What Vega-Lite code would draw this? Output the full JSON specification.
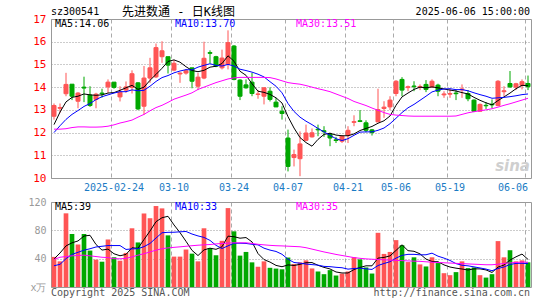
{
"$schema": "https://vega.github.io/schema/vega-lite/v6.json",
"padding": {"left": 27, "top": 5, "right": 4, "bottom": 2},
"background": "white",
"bounds": "flush",
"spacing": 24,
"config": {
 "view": {"stroke": "#999"},
 "axis": {"ticks": false, "domain": false, "tickSize": 0, "labelFont": "DejaVu Sans Mono", "labelFontSize": 10, "gridWidth": 1, "labelOverlap": false},
 "axisY": {"grid": true, "gridDash": [1,2], "gridColor": "#999", "labelPadding": 5, "labelOverlap": false},
 "text": {"font": "DejaVu Sans Mono", "fontSize": 10, "baseline": "middle", "align": "left"}
},
"datasets": {"k": [
{"d":"2025-02-10","o":12.72,"h":13.28,"l":12.57,"c":13.19,"v":42.5,"m5":12.35,"m10":12.0,"m30":12.15,"vm5":39.5,"vm10":30,"vm30":39},
{"d":"2025-02-11","o":13.07,"h":13.28,"l":12.87,"c":13.10,"v":36.2,"m5":12.9,"m10":12.3,"m30":12.15,"vm5":48,"vm10":32,"vm30":42},
{"d":"2025-02-12","o":13.71,"h":14.63,"l":13.60,"c":14.12,"v":104,"m5":13.35,"m10":12.58,"m30":12.17,"vm5":58,"vm10":40,"vm30":43},
{"d":"2025-02-13","o":14.13,"h":14.13,"l":13.43,"c":13.60,"v":74.8,"m5":13.55,"m10":12.8,"m30":12.22,"vm5":62.4,"vm10":46,"vm30":44},
{"d":"2025-02-14","o":13.38,"h":13.78,"l":13.07,"c":13.74,"v":60,"m5":13.6,"m10":12.97,"m30":12.25,"vm5":65,"vm10":49,"vm30":44.5},
{"d":"2025-02-17","o":14.00,"h":14.46,"l":13.34,"c":13.96,"v":74.8,"m5":13.7,"m10":13.15,"m30":12.25,"vm5":72,"vm10":52,"vm30":45},
{"d":"2025-02-18","o":13.65,"h":14.04,"l":13.13,"c":13.19,"v":51.4,"m5":13.66,"m10":13.28,"m30":12.24,"vm5":73,"vm10":54,"vm30":44},
{"d":"2025-02-19","o":13.46,"h":13.75,"l":13.07,"c":13.69,"v":38.6,"m5":13.64,"m10":13.45,"m30":12.24,"vm5":60,"vm10":56.5,"vm30":43},
{"d":"2025-02-20","o":13.74,"h":13.93,"l":13.54,"c":13.71,"v":35.7,"m5":13.66,"m10":13.58,"m30":12.25,"vm5":52.1,"vm10":57.5,"vm30":42},
{"d":"2025-02-21","o":14.01,"h":14.34,"l":13.75,"c":14.22,"v":67.1,"m5":13.74,"m10":13.66,"m30":12.28,"vm5":53.5,"vm10":58.5,"vm30":41.5},
{"d":"2025-02-24","o":14.22,"h":14.22,"l":13.93,"c":13.99,"v":41.9,"m5":13.76,"m10":13.74,"m30":12.34,"vm5":46.9,"vm10":58.5,"vm30":40},
{"d":"2025-02-25","o":13.57,"h":14.04,"l":13.37,"c":13.78,"v":37.1,"m5":13.86,"m10":13.8,"m30":12.42,"vm5":44.1,"vm10":58.5,"vm30":39.8},
{"d":"2025-02-26","o":13.87,"h":14.25,"l":13.75,"c":14.01,"v":48.1,"m5":13.97,"m10":13.8,"m30":12.48,"vm5":46,"vm10":53,"vm30":40.5},
{"d":"2025-02-27","o":13.99,"h":14.74,"l":13.72,"c":14.59,"v":82.9,"m5":14.08,"m10":13.88,"m30":12.55,"vm5":55.4,"vm10":53.8,"vm30":42.5},
{"d":"2025-02-28","o":14.19,"h":14.22,"l":12.99,"c":13.04,"v":62.9,"m5":13.9,"m10":13.84,"m30":12.68,"vm5":54.6,"vm10":54.1,"vm30":45},
{"d":"2025-03-03","o":13.16,"h":14.93,"l":12.78,"c":14.40,"v":103.8,"m5":14.0,"m10":13.86,"m30":12.8,"vm5":67,"vm10":57,"vm30":47},
{"d":"2025-03-04","o":14.40,"h":15.29,"l":14.19,"c":14.85,"v":97.1,"m5":14.3,"m10":14.04,"m30":12.96,"vm5":79,"vm10":61.5,"vm30":49.5},
{"d":"2025-03-05","o":14.45,"h":15.92,"l":14.40,"c":15.74,"v":114.3,"m5":14.56,"m10":14.25,"m30":13.1,"vm5":92.2,"vm10":69.1,"vm30":52},
{"d":"2025-03-06","o":15.34,"h":16.02,"l":15.07,"c":15.60,"v":111,"m5":14.83,"m10":14.42,"m30":13.2,"vm5":97.8,"vm10":76.6,"vm30":54},
{"d":"2025-03-07","o":15.34,"h":15.34,"l":14.60,"c":14.97,"v":72.9,"m5":15.13,"m10":14.51,"m30":13.33,"vm5":99.8,"vm10":77.2,"vm30":55.2},
{"d":"2025-03-10","o":14.75,"h":15.20,"l":14.70,"c":15.05,"v":42.9,"m5":15.2,"m10":14.63,"m30":13.47,"vm5":87.6,"vm10":77.3,"vm30":56},
{"d":"2025-03-11","o":14.58,"h":14.65,"l":14.19,"c":14.62,"v":42.9,"m5":15.1,"m10":14.71,"m30":13.56,"vm5":76.8,"vm10":77.9,"vm30":56.7},
{"d":"2025-03-12","o":14.62,"h":14.80,"l":14.55,"c":14.72,"v":52.9,"m5":14.9,"m10":14.77,"m30":13.65,"vm5":64.5,"vm10":78.4,"vm30":57.5},
{"d":"2025-03-13","o":14.85,"h":14.85,"l":13.95,"c":14.26,"v":47.1,"m5":14.73,"m10":14.76,"m30":13.75,"vm5":51.7,"vm10":74.8,"vm30":58.3},
{"d":"2025-03-14","o":14.04,"h":14.63,"l":13.87,"c":14.44,"v":36.2,"m5":14.68,"m10":14.88,"m30":13.9,"vm5":44.4,"vm10":72.1,"vm30":59},
{"d":"2025-03-17","o":14.40,"h":16.00,"l":14.35,"c":15.27,"v":82.9,"m5":14.74,"m10":14.96,"m30":14.0,"vm5":52.4,"vm10":70,"vm30":59.5},
{"d":"2025-03-18","o":15.52,"h":15.62,"l":15.05,"c":15.49,"v":54.8,"m5":14.88,"m10":15.03,"m30":14.1,"vm5":54.8,"vm10":65.8,"vm30":60},
{"d":"2025-03-19","o":15.34,"h":15.38,"l":14.88,"c":14.92,"v":44.8,"m5":14.92,"m10":14.96,"m30":14.2,"vm5":53.2,"vm10":58.8,"vm30":60.8},
{"d":"2025-03-20","o":14.85,"h":15.65,"l":14.78,"c":15.28,"v":65.2,"m5":15.04,"m10":14.93,"m30":14.28,"vm5":56.8,"vm10":54.3,"vm30":61.5},
{"d":"2025-03-21","o":15.00,"h":16.50,"l":14.78,"c":15.96,"v":111.4,"m5":15.38,"m10":15.0,"m30":14.36,"vm5":71.8,"vm10":58.1,"vm30":62},
{"d":"2025-03-24","o":15.81,"h":15.85,"l":14.30,"c":14.34,"v":78.6,"m5":15.14,"m10":14.93,"m30":14.41,"vm5":71,"vm10":61.7,"vm30":62.4},
{"d":"2025-03-25","o":14.31,"h":14.35,"l":13.43,"c":13.60,"v":44.3,"m5":14.7,"m10":14.79,"m30":14.43,"vm5":68.9,"vm10":61.8,"vm30":62.4},
{"d":"2025-03-26","o":14.10,"h":14.34,"l":13.93,"c":13.97,"v":49.5,"m5":14.52,"m10":14.73,"m30":14.43,"vm5":69.8,"vm10":61.5,"vm30":62.4},
{"d":"2025-03-27","o":14.22,"h":14.63,"l":13.60,"c":13.72,"v":34.8,"m5":14.15,"m10":14.66,"m30":14.43,"vm5":63.7,"vm10":60.3,"vm30":61.5},
{"d":"2025-03-28","o":13.68,"h":13.87,"l":13.49,"c":13.70,"v":28.6,"m5":13.82,"m10":14.57,"m30":14.43,"vm5":47.2,"vm10":59.5,"vm30":60.3},
{"d":"2025-03-31","o":13.60,"h":14.00,"l":13.24,"c":13.97,"v":36.2,"m5":13.77,"m10":14.45,"m30":14.43,"vm5":38.7,"vm10":54.8,"vm30":59.5},
{"d":"2025-04-01","o":13.82,"h":13.99,"l":13.37,"c":13.46,"v":27.1,"m5":13.68,"m10":14.24,"m30":14.42,"vm5":35.2,"vm10":52.1,"vm30":58.8},
{"d":"2025-04-02","o":13.34,"h":13.53,"l":13.12,"c":13.13,"v":26,"m5":13.53,"m10":14.04,"m30":14.36,"vm5":30.5,"vm10":50.2,"vm30":58.3},
{"d":"2025-04-03","o":12.94,"h":13.16,"l":12.57,"c":12.84,"v":25,"m5":13.3,"m10":13.75,"m30":14.28,"vm5":28.6,"vm10":46.2,"vm30":58},
{"d":"2025-04-07","o":11.76,"h":12.13,"l":10.29,"c":10.51,"v":41.6,"m5":12.7,"m10":13.28,"m30":14.2,"vm5":31.2,"vm10":39.2,"vm30":57.6},
{"d":"2025-04-08","o":10.90,"h":11.25,"l":10.51,"c":11.03,"v":32.4,"m5":12.2,"m10":12.93,"m30":14.16,"vm5":30.4,"vm10":34.6,"vm30":57.2},
{"d":"2025-04-09","o":10.85,"h":12.05,"l":10.08,"c":11.50,"v":34.8,"m5":11.78,"m10":12.68,"m30":14.13,"vm5":32,"vm10":33.6,"vm30":56.8},
{"d":"2025-04-10","o":11.66,"h":12.35,"l":11.62,"c":11.98,"v":37.6,"m5":11.56,"m10":12.5,"m30":14.07,"vm5":34.3,"vm10":32.4,"vm30":55.5},
{"d":"2025-04-11","o":11.81,"h":12.18,"l":11.78,"c":11.99,"v":26.2,"m5":11.4,"m10":12.35,"m30":14.0,"vm5":34.5,"vm10":31.6,"vm30":53.5},
{"d":"2025-04-14","o":12.15,"h":12.35,"l":11.84,"c":12.12,"v":21.9,"m5":11.7,"m10":12.18,"m30":13.93,"vm5":30.6,"vm10":30.9,"vm30":51.5},
{"d":"2025-04-15","o":12.08,"h":12.28,"l":11.81,"c":12.04,"v":18.1,"m5":11.92,"m10":12.03,"m30":13.87,"vm5":27.7,"vm10":29.1,"vm30":49.5},
{"d":"2025-04-16","o":11.94,"h":11.99,"l":11.40,"c":11.76,"v":23.8,"m5":11.97,"m10":11.88,"m30":13.8,"vm5":25.5,"vm10":28.7,"vm30":47.8},
{"d":"2025-04-17","o":11.68,"h":11.81,"l":11.54,"c":11.65,"v":16.2,"m5":11.89,"m10":11.73,"m30":13.7,"vm5":21.2,"vm10":27.8,"vm30":46},
{"d":"2025-04-18","o":11.62,"h":11.88,"l":11.54,"c":11.84,"v":19,"m5":11.86,"m10":11.65,"m30":13.6,"vm5":19.8,"vm10":27.2,"vm30":44.5},
{"d":"2025-04-21","o":11.88,"h":12.28,"l":11.54,"c":12.10,"v":21.9,"m5":11.86,"m10":11.73,"m30":13.5,"vm5":19.8,"vm10":25.2,"vm30":43},
{"d":"2025-04-22","o":12.45,"h":12.76,"l":12.28,"c":12.48,"v":41.9,"m5":11.94,"m10":11.88,"m30":13.37,"vm5":24.6,"vm10":26.1,"vm30":41.5},
{"d":"2025-04-23","o":12.52,"h":12.99,"l":12.46,"c":12.49,"v":39,"m5":12.09,"m10":12.02,"m30":13.28,"vm5":27.6,"vm10":26.6,"vm30":40.5},
{"d":"2025-04-24","o":12.43,"h":12.54,"l":12.01,"c":12.10,"v":27.6,"m5":12.18,"m10":12.03,"m30":13.19,"vm5":29.9,"vm10":25.6,"vm30":39.7},
{"d":"2025-04-25","o":12.12,"h":12.16,"l":11.87,"c":12.00,"v":19,"m5":12.27,"m10":12.03,"m30":13.08,"vm5":29.9,"vm10":24.8,"vm30":39.2},
{"d":"2025-04-28","o":12.47,"h":13.93,"l":12.46,"c":13.01,"v":76.5,"m5":12.41,"m10":12.1,"m30":12.98,"vm5":40.8,"vm10":30.3,"vm30":38.8},
{"d":"2025-04-29","o":13.06,"h":13.38,"l":12.65,"c":13.12,"v":46.7,"m5":12.52,"m10":12.2,"m30":12.88,"vm5":41.8,"vm10":33.2,"vm30":38.4},
{"d":"2025-04-30","o":13.13,"h":13.60,"l":12.99,"c":13.43,"v":49.5,"m5":12.73,"m10":12.39,"m30":12.8,"vm5":43.9,"vm10":35.7,"vm30":38},
{"d":"2025-05-06","o":13.72,"h":14.31,"l":13.60,"c":14.26,"v":66.2,"m5":13.2,"m10":12.63,"m30":12.77,"vm5":51.6,"vm10":40.7,"vm30":37.6},
{"d":"2025-05-07","o":14.34,"h":14.44,"l":13.60,"c":13.87,"v":59,"m5":13.57,"m10":12.88,"m30":12.75,"vm5":59.6,"vm10":44.7,"vm30":37.2},
{"d":"2025-05-08","o":13.98,"h":14.07,"l":13.82,"c":14.02,"v":35.2,"m5":13.74,"m10":13.09,"m30":12.73,"vm5":51.3,"vm10":46.1,"vm30":36.8},
{"d":"2025-05-09","o":14.05,"h":14.26,"l":13.82,"c":14.02,"v":41.9,"m5":13.9,"m10":13.24,"m30":12.72,"vm5":50.4,"vm10":46.1,"vm30":36.5},
{"d":"2025-05-12","o":13.99,"h":14.12,"l":13.87,"c":14.03,"v":31.9,"m5":14.0,"m10":13.42,"m30":12.72,"vm5":46.8,"vm10":45.4,"vm30":36.2},
{"d":"2025-05-13","o":14.12,"h":14.31,"l":13.78,"c":13.90,"v":29,"m5":13.97,"m10":13.6,"m30":12.72,"vm5":39.4,"vm10":45.5,"vm30":35.6},
{"d":"2025-05-14","o":14.01,"h":14.34,"l":13.97,"c":14.26,"v":41.9,"m5":14.01,"m10":13.79,"m30":12.72,"vm5":36,"vm10":47.8,"vm30":35},
{"d":"2025-05-15","o":14.09,"h":14.15,"l":13.60,"c":13.82,"v":33.8,"m5":13.97,"m10":13.87,"m30":12.72,"vm5":35.7,"vm10":43.5,"vm30":34.6},
{"d":"2025-05-16","o":13.66,"h":13.82,"l":13.53,"c":13.70,"v":19.5,"m5":13.92,"m10":13.92,"m30":12.72,"vm5":31.2,"vm10":40.8,"vm30":34.2},
{"d":"2025-05-19","o":13.69,"h":13.93,"l":13.53,"c":13.72,"v":16.7,"m5":13.87,"m10":13.93,"m30":12.72,"vm5":28.2,"vm10":37.5,"vm30":33.8},
{"d":"2025-05-20","o":13.74,"h":13.87,"l":13.43,"c":13.71,"v":21,"m5":13.83,"m10":13.89,"m30":12.73,"vm5":26.6,"vm10":33,"vm30":33.4},
{"d":"2025-05-21","o":13.88,"h":14.12,"l":13.53,"c":13.92,"v":36.2,"m5":13.76,"m10":13.89,"m30":12.8,"vm5":25.4,"vm10":30.7,"vm30":33},
{"d":"2025-05-22","o":13.72,"h":13.87,"l":13.38,"c":13.49,"v":26.7,"m5":13.7,"m10":13.84,"m30":12.87,"vm5":24,"vm10":29.9,"vm30":32.6},
{"d":"2025-05-23","o":13.43,"h":13.46,"l":12.90,"c":12.94,"v":27.6,"m5":13.55,"m10":13.75,"m30":12.92,"vm5":25.6,"vm10":28.4,"vm30":32.2},
{"d":"2025-05-26","o":12.94,"h":13.28,"l":12.93,"c":13.24,"v":16.7,"m5":13.42,"m10":13.67,"m30":12.96,"vm5":25.6,"vm10":26.9,"vm30":31.8},
{"d":"2025-05-27","o":13.20,"h":13.34,"l":13.04,"c":13.18,"v":13.3,"m5":13.31,"m10":13.6,"m30":13.0,"vm5":24.1,"vm10":25.3,"vm30":31.4},
{"d":"2025-05-28","o":13.25,"h":13.46,"l":13.07,"c":13.22,"v":18.1,"m5":13.22,"m10":13.51,"m30":13.05,"vm5":20.5,"vm10":23,"vm30":31.4},
{"d":"2025-05-29","o":13.19,"h":14.31,"l":13.16,"c":14.26,"v":64.8,"m5":13.41,"m10":13.53,"m30":13.12,"vm5":28.1,"vm10":26.1,"vm30":32.2},
{"d":"2025-05-30","o":13.80,"h":14.04,"l":13.60,"c":13.84,"v":41.9,"m5":13.57,"m10":13.55,"m30":13.2,"vm5":31,"vm10":28.3,"vm30":33.2},
{"d":"2025-06-03","o":14.16,"h":14.71,"l":13.97,"c":14.01,"v":51.9,"m5":13.74,"m10":13.58,"m30":13.27,"vm5":38,"vm10":31.8,"vm30":34},
{"d":"2025-06-04","o":14.00,"h":14.19,"l":13.87,"c":14.15,"v":36.2,"m5":13.93,"m10":13.62,"m30":13.35,"vm5":42.6,"vm10":33.3,"vm30":34.6},
{"d":"2025-06-05","o":14.07,"h":14.34,"l":13.90,"c":14.24,"v":37.6,"m5":14.08,"m10":13.67,"m30":13.43,"vm5":46.5,"vm10":33.5,"vm30":35.2},
{"d":"2025-06-06","o":14.16,"h":14.51,"l":13.87,"c":14.02,"v":34.8,"m5":14.06,"m10":13.70,"m30":13.51,"vm5":39,"vm10":33,"vm30":35}
]},
"vconcat": [
{
 "width": 480, "height": 159,
 "data": {"name": "k"},
 "encoding": {
  "x": {"field": "d", "type": "ordinal", "title": null,
   "scale": {"paddingInner": 0, "paddingOuter": 0},
   "axis": {"values": ["2025-02-24","2025-03-10","2025-03-24","2025-04-07","2025-04-21","2025-05-06","2025-05-19","2025-06-06"],
    "bandPosition": 0, "grid": true, "gridDash": [4,3], "gridColor": "#aaa",
    "labelExpr": "datum.value == '2025-02-24' ? datum.value : slice(datum.value, 5)",
    "labelColor": "#1a7bc4", "labelPadding": 4, "labelAngle": 0, "labelFlush": 7, "labelOverlap": false}}
 },
 "layer": [
  {"mark": {"type": "rule", "strokeWidth": 1},
   "encoding": {
    "y": {"field": "l", "type": "quantitative", "title": null,
     "scale": {"domain": [10, 17]},
     "axis": {"values": [10,11,12,13,14,15,16,17], "labelColor": "#f00", "labelFontSize": 11, "labelOverlap": false}},
    "y2": {"field": "h"},
    "color": {"condition": {"test": "datum.c >= datum.o", "value": "#ff5555"}, "value": "#00a800"}}},
  {"mark": {"type": "bar", "width": {"band": 0.67}, "strokeWidth": 1},
   "encoding": {
    "y": {"field": "o", "type": "quantitative", "title": null,
     "axis": {"values": [10,11,12,13,14,15,16,17], "labelColor": "#f00", "labelFontSize": 11, "labelOverlap": false}},
    "y2": {"field": "c"},
    "fill": {"condition": {"test": "datum.c >= datum.o", "value": "#ff5555"}, "value": "#00a800"},
    "stroke": {"condition": {"test": "datum.c >= datum.o", "value": "#ff5555"}, "value": "#00a800"}}},
  {"mark": {"type": "line", "color": "#000", "strokeWidth": 1},
   "encoding": {"y": {"field": "m5", "type": "quantitative", "title": null,
     "axis": {"values": [10,11,12,13,14,15,16,17], "labelColor": "#f00", "labelFontSize": 11, "labelOverlap": false}}}},
  {"mark": {"type": "line", "color": "#00f", "strokeWidth": 1},
   "encoding": {"y": {"field": "m10", "type": "quantitative", "title": null,
     "axis": {"values": [10,11,12,13,14,15,16,17], "labelColor": "#f00", "labelFontSize": 11, "labelOverlap": false}}}},
  {"mark": {"type": "line", "color": "#f0f", "strokeWidth": 1},
   "encoding": {"y": {"field": "m30", "type": "quantitative", "title": null,
     "axis": {"values": [10,11,12,13,14,15,16,17], "labelColor": "#f00", "labelFontSize": 11, "labelOverlap": false}}}},
  {"data": {"values": [{}]}, "mark": {"type": "text", "text": "MA5:14.06", "color": "#000", "dx": 1},
   "encoding": {"x": {"datum": "2025-02-10"}, "y": {"datum": 16.77, "axis": {"values": [10,11,12,13,14,15,16,17], "labelColor": "#f00", "labelFontSize": 11, "labelOverlap": false}}}},
  {"data": {"values": [{}]}, "mark": {"type": "text", "text": "MA10:13.70", "color": "#00f", "dx": 1},
   "encoding": {"x": {"datum": "2025-03-10"}, "y": {"datum": 16.77, "axis": {"values": [10,11,12,13,14,15,16,17], "labelColor": "#f00", "labelFontSize": 11, "labelOverlap": false}}}},
  {"data": {"values": [{}]}, "mark": {"type": "text", "text": "MA30:13.51", "color": "#f0f", "dx": 2},
   "encoding": {"x": {"datum": "2025-04-08"}, "y": {"datum": 16.77, "axis": {"values": [10,11,12,13,14,15,16,17], "labelColor": "#f00", "labelFontSize": 11, "labelOverlap": false}}}},
  {"data": {"values": [{}]}, "mark": {"type": "text", "text": "sz300541", "color": "#000", "dx": -3},
   "encoding": {"x": {"datum": "2025-02-10"}, "y": {"datum": 17.3, "axis": {"values": [10,11,12,13,14,15,16,17], "labelColor": "#f00", "labelFontSize": 11, "labelOverlap": false}}}},
  {"data": {"values": [{}]}, "mark": {"type": "text", "text": "先进数通 - 日K线图", "color": "#000", "align": "center", "font": "DejaVu Sans Mono, Noto Sans CJK SC", "fontSize": 12, "dx": -1.5},
   "encoding": {"x": {"datum": "2025-03-11"}, "y": {"datum": 17.3, "axis": {"values": [10,11,12,13,14,15,16,17], "labelColor": "#f00", "labelFontSize": 11, "labelOverlap": false}}}},
  {"data": {"values": [{}]}, "mark": {"type": "text", "text": "2025-06-06 15:00:00", "color": "#000", "align": "right", "dx": 2},
   "encoding": {"x": {"datum": "2025-06-06"}, "y": {"datum": 17.3, "axis": {"values": [10,11,12,13,14,15,16,17], "labelColor": "#f00", "labelFontSize": 11, "labelOverlap": false}}}},
  {"data": {"values": [{}]}, "mark": {"type": "text", "text": "sina", "color": "#cfcfcf", "align": "right", "font": "DejaVu Sans", "fontSize": 15, "fontWeight": "bold", "fontStyle": "italic", "dx": 2},
   "encoding": {"x": {"datum": "2025-06-06"}, "y": {"datum": 10.52, "axis": {"values": [10,11,12,13,14,15,16,17], "labelColor": "#f00", "labelFontSize": 11, "labelOverlap": false}}}}
 ]
},
{
 "width": 480, "height": 85,
 "data": {"name": "k"},
 "encoding": {
  "x": {"field": "d", "type": "ordinal", "title": null,
   "scale": {"paddingInner": 0, "paddingOuter": 0},
   "axis": {"values": ["2025-02-24","2025-03-10","2025-03-24","2025-04-07","2025-04-21","2025-05-06","2025-05-19","2025-06-06"],
    "bandPosition": 0, "grid": true, "gridDash": [4,3], "gridColor": "#aaa", "labels": false}}
 },
 "layer": [
  {"mark": {"type": "bar", "width": {"band": 0.78}},
   "encoding": {
    "y": {"field": "v", "type": "quantitative", "title": null,
     "scale": {"domain": [0, 120]},
     "axis": {"values": [0,40,80,120], "labelColor": "#999", "labelOverlap": false, "labelExpr": "datum.value == 0 ? 'x万' : datum.label"}},
    "color": {"condition": {"test": "datum.c >= datum.o", "value": "#ff5555"}, "value": "#00a800"}}},
  {"mark": {"type": "line", "color": "#000", "strokeWidth": 1},
   "encoding": {"y": {"field": "vm5", "type": "quantitative", "title": null,
     "axis": {"values": [0,40,80,120], "labelColor": "#999", "labelOverlap": false, "labelExpr": "datum.value == 0 ? 'x万' : datum.label"}}}},
  {"mark": {"type": "line", "color": "#00f", "strokeWidth": 1},
   "encoding": {"y": {"field": "vm10", "type": "quantitative", "title": null,
     "axis": {"values": [0,40,80,120], "labelColor": "#999", "labelOverlap": false, "labelExpr": "datum.value == 0 ? 'x万' : datum.label"}}}},
  {"mark": {"type": "line", "color": "#f0f", "strokeWidth": 1},
   "encoding": {"y": {"field": "vm30", "type": "quantitative", "title": null,
     "axis": {"values": [0,40,80,120], "labelColor": "#999", "labelOverlap": false, "labelExpr": "datum.value == 0 ? 'x万' : datum.label"}}}},
  {"data": {"values": [{}]}, "mark": {"type": "text", "text": "MA5:39", "color": "#000", "dx": 1},
   "encoding": {"x": {"datum": "2025-02-10"}, "y": {"datum": 112.3, "axis": {"values": [0,40,80,120], "labelColor": "#999", "labelOverlap": false, "labelExpr": "datum.value == 0 ? 'x万' : datum.label"}}}},
  {"data": {"values": [{}]}, "mark": {"type": "text", "text": "MA10:33", "color": "#00f", "dx": 1},
   "encoding": {"x": {"datum": "2025-03-10"}, "y": {"datum": 112.3, "axis": {"values": [0,40,80,120], "labelColor": "#999", "labelOverlap": false, "labelExpr": "datum.value == 0 ? 'x万' : datum.label"}}}},
  {"data": {"values": [{}]}, "mark": {"type": "text", "text": "MA30:35", "color": "#f0f", "dx": 2},
   "encoding": {"x": {"datum": "2025-04-08"}, "y": {"datum": 112.3, "axis": {"values": [0,40,80,120], "labelColor": "#999", "labelOverlap": false, "labelExpr": "datum.value == 0 ? 'x万' : datum.label"}}}},
  {"data": {"values": [{}]}, "mark": {"type": "text", "text": "Copyright 2025 SINA.COM", "color": "#555", "dx": -3},
   "encoding": {"x": {"datum": "2025-02-10"}, "y": {"datum": -8.5, "axis": {"values": [0,40,80,120], "labelColor": "#999", "labelOverlap": false, "labelExpr": "datum.value == 0 ? 'x万' : datum.label"}}}},
  {"data": {"values": [{}]}, "mark": {"type": "text", "text": "http://finance.sina.com.cn", "color": "#555", "align": "right", "dx": 2},
   "encoding": {"x": {"datum": "2025-06-06"}, "y": {"datum": -8.5, "axis": {"values": [0,40,80,120], "labelColor": "#999", "labelOverlap": false, "labelExpr": "datum.value == 0 ? 'x万' : datum.label"}}}}
 ]
}
]
}
